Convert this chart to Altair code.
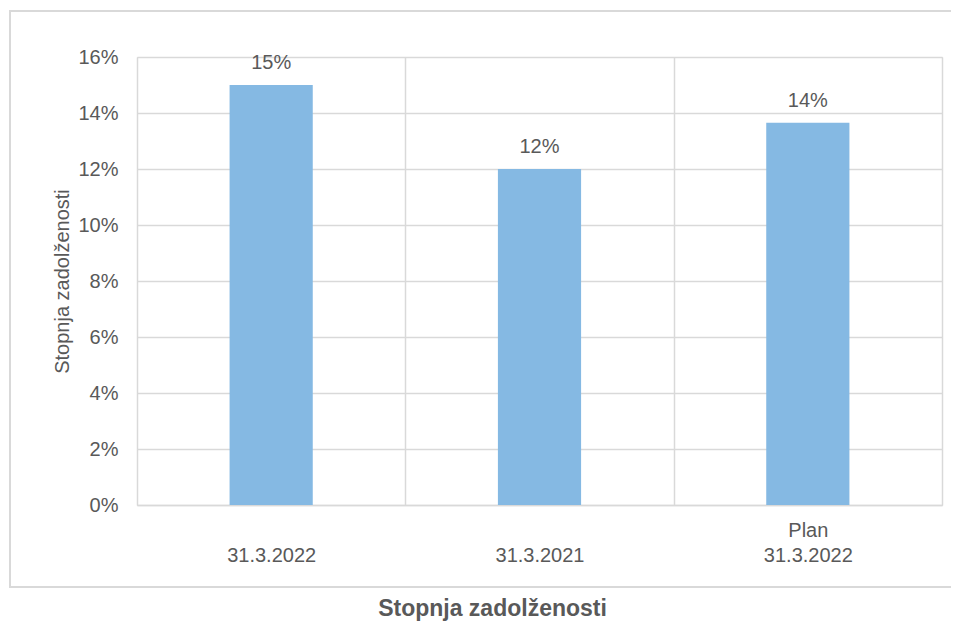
import altair as alt
import pandas as pd

categories = ["31.3.2022", "31.3.2021", "Plan\n31.3.2022"]
values = [0.15, 0.12, 0.1365]
y_ticks = [0, 0.02, 0.04, 0.06, 0.08, 0.10, 0.12, 0.14, 0.16]

df = pd.DataFrame({"cat": categories, "val": values})

FONT = "Liberation Sans, Arial, sans-serif"
GREY = "#595959"
GRID = "#D9D9D9"
BAR = "#85B9E3"

x_enc = alt.X(
    "cat:N", sort=categories, title=None,
    scale=alt.Scale(paddingInner=0, paddingOuter=0),
    axis=alt.Axis(
        labelAngle=0, tickBand="extent", grid=True, gridColor=GRID, gridWidth=1.5,
        ticks=False, tickSize=0, domainColor=GRID, domainWidth=1.5,
        labelFont=FONT, labelFontSize=20, labelColor=GREY, labelBaseline="top",
        labelPadding=15, labelLineHeight=25, labelAlign="center",
        labelExpr="indexof(datum.label, '\\n') < 0 ? ['', datum.label] : split(datum.label, '\\n')",
    ),
)
y_enc = alt.Y(
    "val:Q", scale=alt.Scale(domain=[0, 0.16]),
    axis=alt.Axis(
        values=y_ticks, format=".0%", grid=True, gridColor=GRID, gridWidth=1.5,
        domain=False, ticks=False, tickSize=0, labelPadding=19,
        labelFont=FONT, labelFontSize=20, labelColor=GREY,
        title="Stopnja zadolženosti", titleFont=FONT, titleFontSize=20,
        titleFontWeight="normal", titleColor=GREY, titleBaseline="bottom",
        titleX=-65, titleY=224,
    ),
)

frame = alt.Chart(pd.DataFrame({"a": [0]})).mark_rect(
    fill="white", fillOpacity=0, stroke=GRID, strokeWidth=2
).encode(x=alt.value(-127), x2=alt.value(830), y=alt.value(-46), y2=alt.value(530))

base = alt.Chart(df).encode(x=x_enc, y=y_enc)
bars = base.mark_bar(color=BAR, width=alt.RelativeBandSize(0.31))
labels = base.mark_text(baseline="bottom", dy=-12, font=FONT, fontSize=20, color=GREY).encode(
    text=alt.Text("val:Q", format=".0%")
)

chart = alt.layer(frame, bars, labels).properties(
    width=805, height=448,
    padding={"left": 129, "top": 49, "right": 9, "bottom": 116},
    autosize=alt.AutoSizeParams(type="none"),
    title=alt.Title(
        "Stopnja zadolženosti", orient="bottom", anchor="middle", dx=-47, offset=10,
        font=FONT, fontSize=23, fontWeight="bold", color=GREY,
    ),
).configure_view(stroke=GRID, strokeWidth=1.5).configure(background="white")

chart.save("out.html", embed_options={"renderer": "svg", "actions": False})
